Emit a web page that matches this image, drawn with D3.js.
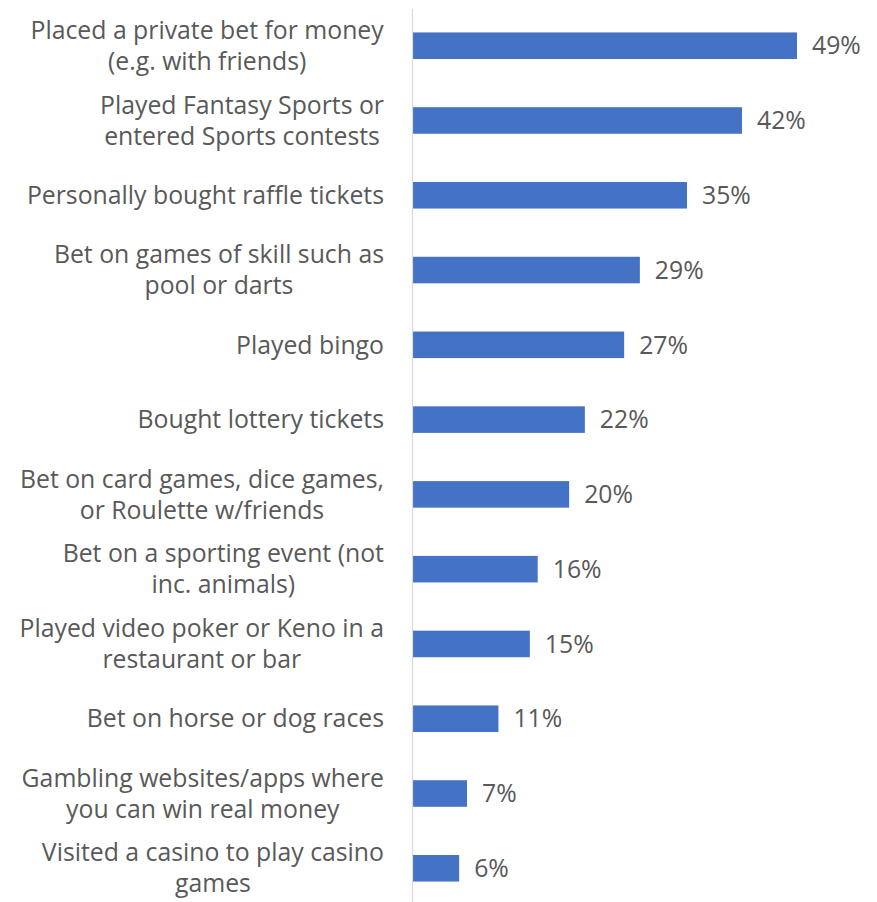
<!DOCTYPE html>
<html>
<head>
<meta charset="utf-8">
<script src="https://cdn.jsdelivr.net/npm/d3@7/dist/d3.min.js"></script>
<style>
  html, body { margin: 0; padding: 0; background: #ffffff; }
  svg { display: block; }
</style>
</head>
<body>
<svg id="chart" width="877" height="902"></svg>
<script>
// Gambling activities (share of respondents), one line per array entry of each label
const categories = [
  ["Placed a private bet for money", "(e.g. with friends)"],
  ["Played Fantasy Sports or", "entered Sports contests"],
  ["Personally bought raffle tickets"],
  ["Bet on games of skill such as", "pool or darts"],
  ["Played bingo"],
  ["Bought lottery tickets"],
  ["Bet on card games, dice games,", "or Roulette w/friends"],
  ["Bet on a sporting event (not", "inc. animals)"],
  ["Played video poker or Keno in a", "restaurant or bar"],
  ["Bet on horse or dog races"],
  ["Gambling websites/apps where", "you can win real money"],
  ["Visited a casino to play casino", "games"]
];
const values = [49, 42, 35, 29, 27, 22, 20, 16, 15, 11, 7, 6];
const valueLabels = values.map(v => v + "%");

const svg = d3.select("#chart");
const axisX = 412;
const fontFamily = "'Open Sans', sans-serif";
const fontSize = 24.8;
const textColor = "#595959";
const barColor = "#4472C4";

const keys = categories.map((c, i) => i);

const y = d3.scaleBand()
  .domain(keys)
  .range([8.5, 905.5])
  .paddingInner(0.645)
  .paddingOuter(0.32);

const x = d3.scaleLinear()
  .domain([0, 49])
  .range([axisX, 797]);

// bars
svg.append("g")
  .selectAll("rect")
  .data(values)
  .join("rect")
  .attr("x", x(0))
  .attr("y", (d, i) => y(i))
  .attr("width", d => x(d) - x(0))
  .attr("height", y.bandwidth())
  .attr("fill", barColor);

// vertical category axis line
svg.append("line")
  .attr("x1", axisX + 0.5).attr("x2", axisX + 0.5)
  .attr("y1", 9).attr("y2", 902)
  .attr("stroke", "#d9d9d9")
  .attr("stroke-width", 1.2);

// category labels (centred on each bar)
const lineH = 31;
const labels = svg.append("g")
  .attr("font-family", fontFamily)
  .attr("font-size", fontSize)
  .attr("fill", textColor)
  .attr("text-anchor", "middle");

categories.forEach((lines, i) => {
  const cy = y(i) + y.bandwidth() / 2;
  const t = labels.append("text")
    .attr("x", 0)
    .attr("y", cy);
  lines.forEach((ln, j) => {
    t.append("tspan")
      .attr("x", 0)
      .attr("y", cy + (j - (lines.length - 1) / 2) * lineH)
      .attr("dy", "0.35em")
      .text(ln);
  });
});

// align each label block: centred lines, right edge of widest line at 384
labels.selectAll("text").each(function() {
  const w = this.getBBox().width;
  d3.select(this).selectAll("tspan").attr("x", 384 - w / 2);
});

// value labels
svg.append("g")
  .attr("font-family", fontFamily)
  .attr("font-size", fontSize)
  .attr("fill", textColor)
  .selectAll("text")
  .data(values)
  .join("text")
  .attr("x", d => x(d) + 15)
  .attr("y", (d, i) => y(i) + y.bandwidth() / 2)
  .attr("dy", "0.35em")
  .text((d, i) => valueLabels[i]);
</script>
</body>
</html>
